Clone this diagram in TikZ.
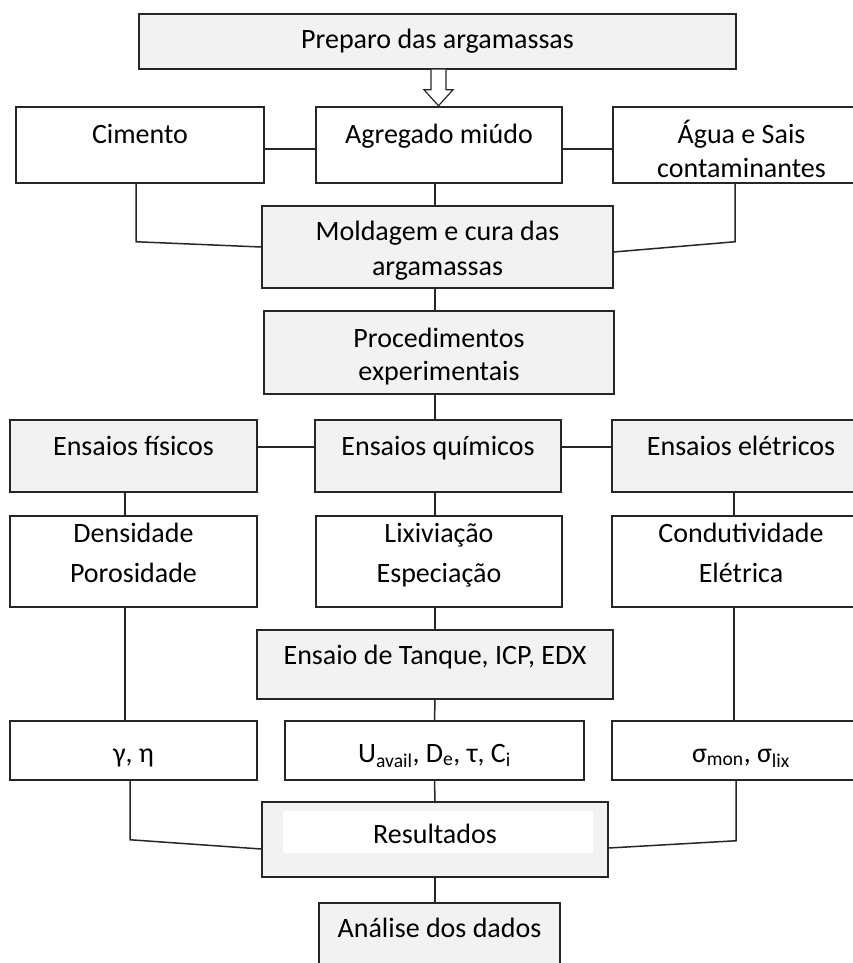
\documentclass[tikz,border=0pt]{standalone}
\usepackage{fontspec}
\setmainfont{Carlito}
\usetikzlibrary{calc}
\definecolor{boxgray}{HTML}{F2F2F2}
\definecolor{lncol}{HTML}{262626}
\begin{document}
\begin{tikzpicture}[x=1pt,y=-1pt,
  box/.style={draw=lncol, line width=1.5pt, inner sep=0pt, align=center,
              font=\fontsize{28}{35}\selectfont},
  gbox/.style={box, fill=boxgray},
  wbox/.style={box, fill=white},
  ln/.style={draw=lncol, line width=1.5pt}]
\useasboundingbox (0,0) rectangle (853,963);
\clip (0,0) rectangle (853,963);
\fill[white] (0,0) rectangle (853,963);

% top
\node[gbox, minimum width=597pt, minimum height=55pt, text height=18pt, text depth=3pt] (prep) at (437.5,41.5) {Preparo das argamassas};

% row 1
\node[wbox, minimum width=248pt, minimum height=76pt, text height=18pt, text depth=22pt] (cim) at (140,145) {Cimento};
\node[wbox, minimum width=246pt, minimum height=76pt, text height=18pt, text depth=22pt] (agr) at (439,145) {Agregado miúdo};
\node[wbox, minimum width=257pt, minimum height=76pt, text height=66pt, text depth=2pt] (agua) at (741.5,145) {Água e Sais\\[-1pt]contaminantes};

% hollow arrow
\draw[draw=lncol, line width=1.2pt, fill=white]
  ($(prep.south)+(-6.5,0)$) -- ++(0,20) -- ++(-7,0) -- ++(14.5,16) -- ++(14.5,-16) -- ++(-7,0) -- ++(0,-20);

% row 2
\node[gbox, minimum width=351pt, minimum height=82pt, text height=58pt, text depth=2pt] (mold) at (437.5,247) {Moldagem e cura das\\argamassas};
\node[gbox, minimum width=350pt, minimum height=83pt, text height=55pt, text depth=0pt] (proc) at (439,352.5) {Procedimentos\\[-2pt]experimentais};

% row 3
\node[gbox, minimum width=247pt, minimum height=72pt, text height=18pt, text depth=20pt] (fis) at (133.5,456) {Ensaios físicos};
\node[gbox, minimum width=246pt, minimum height=72pt, text height=18pt, text depth=20pt] (qui) at (438,456) {Ensaios químicos};
\node[gbox, minimum width=258pt, minimum height=72pt, text height=18pt, text depth=20pt] (ele) at (741,456) {Ensaios elétricos};

% row 4
\node[wbox, minimum width=247pt, minimum height=91pt, text height=47pt, text depth=6pt] (dens) at (133.5,561.5) {Densidade\\[5pt]Porosidade};
\node[wbox, minimum width=246pt, minimum height=91pt, text height=47pt, text depth=6pt] (lix) at (439,561.5) {Lixiviação\\[5pt]Especiação};
\node[wbox, minimum width=258pt, minimum height=91pt, text height=47pt, text depth=6pt] (cond) at (741,561.5) {Condutividade\\[5pt]Elétrica};

% tank
\node[gbox, minimum width=356pt, minimum height=69pt, text height=18pt, text depth=19pt] (tank) at (435,664.5) {Ensaio de Tanque, ICP, EDX};

% row 5
\node[wbox, minimum width=247pt, minimum height=59pt, text height=24pt, text depth=1pt] (gam) at (133.5,750.5) {γ, η};
\node[wbox, minimum width=299pt, minimum height=59pt, text height=24pt, text depth=1pt] (uav) at (434.5,750.5) {U\textsubscript{avail}, D\textsubscript{e}, τ, C\textsubscript{i}};
\node[wbox, minimum width=258pt, minimum height=59pt, text height=24pt, text depth=1pt] (sig) at (741,750.5) {σ\textsubscript{mon}, σ\textsubscript{lix}};

% results
\node[gbox, minimum width=346pt, minimum height=75pt, text height=18pt, text depth=11pt,
  path picture={\fill[white] ([xshift=21pt,yshift=-9pt]path picture bounding box.north west) rectangle ([xshift=-15pt,yshift=24pt]path picture bounding box.south east);}] (res) at (435,839.5) {Resultados};
\node[gbox, minimum width=241pt, minimum height=87pt, text height=18pt, text depth=37pt] (ana) at (439.5,946.5) {Análise dos dados};

% connectors row 1
\draw[ln] ([yshift=-4pt]cim.east) -- ([yshift=-4pt]agr.west);
\draw[ln] ([yshift=-4pt]agr.east) -- ([yshift=-4pt]agua.west);
\draw[ln] ([xshift=-4pt]cim.south) -- ++(0,58) -- (mold.west);
\draw[ln] ([xshift=-4pt]agr.south) -- ([xshift=-4pt]agr.south |- mold.north);
\draw[ln] ([xshift=-6.5pt]agua.south) -- ++(0,58) -- ([yshift=-5pt]mold.east);
\draw[ln] ([xshift=-2.5pt]mold.south) -- ([xshift=-2.5pt]mold.south |- proc.north);
\draw[ln] ([xshift=-4pt]proc.south) -- ([xshift=-3pt]qui.north);

% row 3 connectors
\draw[ln] ([yshift=9pt]fis.east) -- ([yshift=9pt]qui.west);
\draw[ln] ([yshift=9pt]qui.east) -- ([yshift=9pt]ele.west);
\draw[ln] ([xshift=-8.5pt]fis.south) -- ([xshift=-8.5pt]dens.north);
\draw[ln] ([xshift=-3pt]qui.south) -- ([xshift=-4pt]lix.north);
\draw[ln] ([xshift=-7pt]ele.south) -- ([xshift=-7pt]cond.north);

% row 4 connectors
\draw[ln] ([xshift=-8.5pt]dens.south) -- ([xshift=-8.5pt]gam.north);
\draw[ln] ([xshift=-4pt]lix.south) -- (tank.north);
\draw[ln] ([xshift=-7pt]cond.south) -- ([xshift=-7pt]sig.north);
\draw[ln] (tank.south) -- (uav.north);

% row 5 connectors
\draw[ln] ([xshift=-3.5pt]gam.south) -- ++(0,59) -- ([yshift=-9.5pt]res.west);
\draw[ln] (uav.south) -- (res.north);
\draw[ln] ([xshift=-5pt]sig.south) -- ++(0,60) -- ([yshift=-8.5pt]res.east);
\draw[ln] (res.south) -- (res.south |- ana.north);
\end{tikzpicture}
\end{document}
